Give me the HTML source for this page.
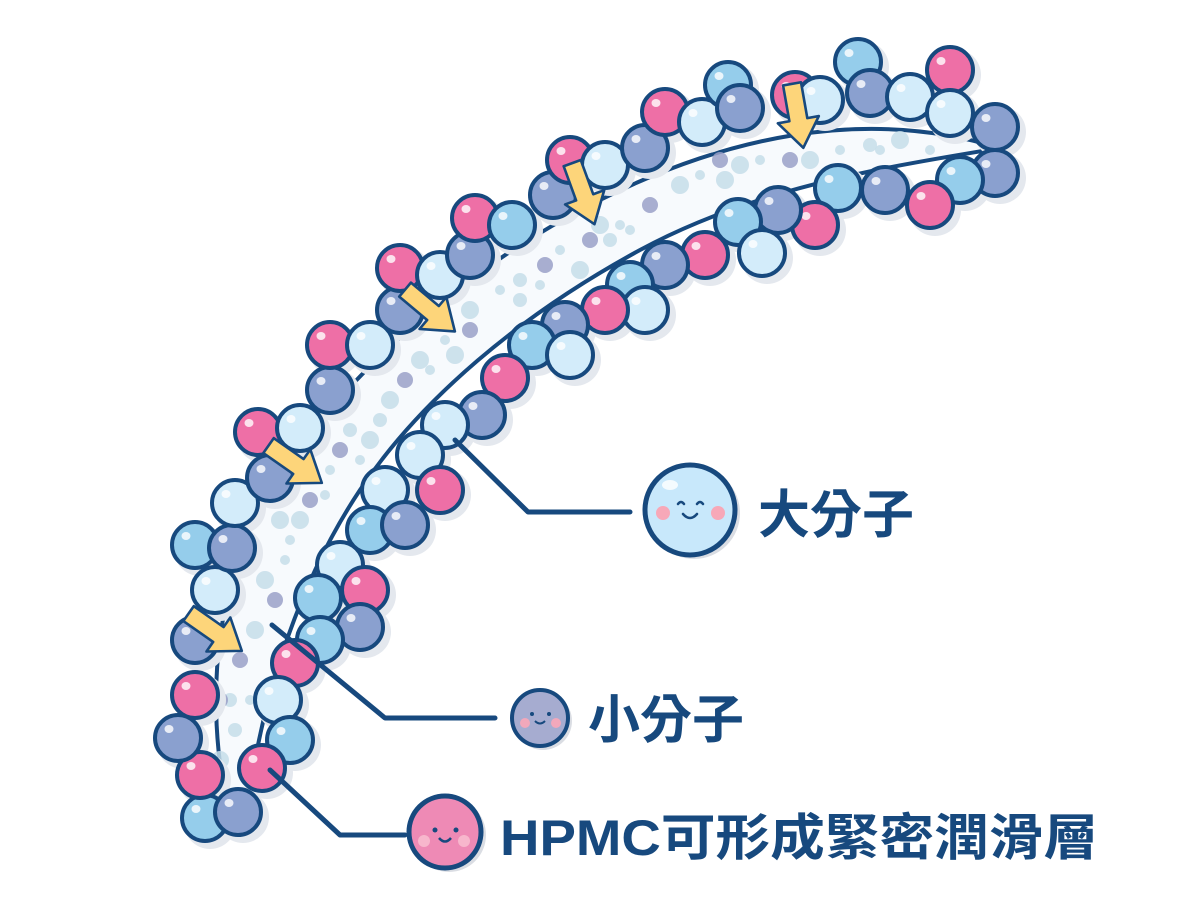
<!DOCTYPE html>
<html><head><meta charset="utf-8"><style>
html,body{margin:0;padding:0;background:#fff;}
svg{display:block;}
text{font-family:"Liberation Sans","Noto Sans CJK TC",sans-serif;font-weight:bold;fill:#17497e;}
</style></head><body>
<svg id="s" width="1200" height="919" viewBox="0 0 1200 919" xmlns="http://www.w3.org/2000/svg">
<path d="M225,795 C205,690 215,560 290,460 C370,350 480,260 600,200 C720,140 860,105 1000,148 C900,165 760,185 640,250 C520,315 420,400 360,490 C300,580 265,690 250,790 Z" fill="#f7fafd" stroke="#17497e" stroke-width="4"/>
<g id="parts"></g>
<g id="beads"></g>
<g id="arrows"></g>
<g fill="none" stroke="#17497e" stroke-width="5" stroke-linecap="round" stroke-linejoin="round">
<path d="M455,440 L528,512 L630,512"/>
<path d="M272,625 L385,718 L495,718"/>
<path d="M270,770 L340,835 L405,835"/>
</g>
<circle cx="694" cy="513" r="46" fill="#dadde3"/>
<circle cx="690" cy="510" r="45" fill="#c8e8fb" stroke="#17497e" stroke-width="5"/>
<ellipse cx="670" cy="485" rx="8" ry="5" fill="#fff" opacity="0.8"/>
<circle cx="663" cy="513" r="7" fill="#f7a8b8"/><circle cx="718" cy="513" r="7" fill="#f7a8b8"/>
<path d="M678,504 q3,-4 6,0 M697,504 q3,-4 6,0 M683,514 q7,8 14,0" fill="none" stroke="#17497e" stroke-width="2.5" stroke-linecap="round"/>
<circle cx="543" cy="721" r="29" fill="#dadde3"/>
<circle cx="540" cy="718" r="28" fill="#a6acd0" stroke="#17497e" stroke-width="4"/>
<circle cx="525" cy="723" r="5" fill="#f2a8bb"/><circle cx="556" cy="723" r="5" fill="#f2a8bb"/>
<circle cx="532" cy="714" r="2" fill="#17497e"/><circle cx="549" cy="714" r="2" fill="#17497e"/>
<path d="M535,721 q5,5 10,0" fill="none" stroke="#17497e" stroke-width="2"/>
<circle cx="449" cy="835" r="37" fill="#dadde3"/>
<circle cx="445" cy="832" r="36" fill="#ee8ab5" stroke="#17497e" stroke-width="5"/>
<circle cx="424" cy="841" r="6" fill="#f7b6cc"/><circle cx="464" cy="841" r="6" fill="#f7b6cc"/>
<circle cx="435" cy="830" r="2.5" fill="#17497e"/><circle cx="456" cy="830" r="2.5" fill="#17497e"/>
<path d="M439,838 q6,7 12,0" fill="none" stroke="#17497e" stroke-width="2.5"/>
<text x="758" y="533" font-size="52">大分子</text>
<text x="588" y="738" font-size="52">小分子</text>
<text x="500" y="855" font-size="50" textLength="598" lengthAdjust="spacingAndGlyphs">HPMC可形成緊密潤滑層</text>
</svg>
<script>
var NS="http://www.w3.org/2000/svg";
function el(p,t,a){var e=document.createElementNS(NS,t);for(var k in a)e.setAttribute(k,a[k]);p.appendChild(e);return e;}
var C={p:"#ee6fa6",l:"#d3ecfa",m:"#95cdeb",v:"#8aa0cf"};
var B=[[205,818,"m"],[238,812,"v"],[200,775,"p"],[178,738,"v"],[195,695,"p"],[195,640,"v"],[215,590,"l"],[195,545,"m"],[232,548,"v"],[235,503,"l"],[270,478,"v"],[258,432,"p"],[300,428,"l"],[330,390,"v"],[330,345,"p"],[370,345,"l"],[400,310,"v"],[400,268,"p"],[440,275,"l"],[470,255,"v"],[475,218,"p"],[512,225,"m"],[553,195,"v"],[570,160,"p"],[605,165,"l"],[645,148,"v"],[665,112,"p"],[702,122,"l"],[728,85,"m"],[740,108,"v"],[795,95,"p"],[820,100,"l"],[858,62,"m"],[870,93,"v"],[910,97,"l"],[950,70,"p"],[950,113,"l"],[995,127,"v"],[995,173,"v"],
[960,180,"m"],[930,205,"p"],[885,190,"v"],[838,188,"m"],[815,225,"p"],[778,210,"v"],[738,222,"m"],[762,253,"l"],[705,255,"p"],[665,265,"v"],[630,285,"m"],[645,310,"l"],[605,310,"p"],[565,325,"v"],[532,345,"m"],[570,355,"l"],[505,378,"p"],[482,415,"v"],[445,425,"l"],[420,455,"l"],[440,490,"p"],[385,490,"l"],[370,530,"m"],[405,525,"v"],[340,565,"l"],[365,590,"p"],[318,598,"m"],[360,627,"v"],[320,640,"m"],[295,663,"p"],[278,700,"l"],[290,740,"m"],[262,768,"p"]];
var g=document.getElementById("beads");
B.forEach(function(b){el(g,"circle",{cx:b[0]+5,cy:b[1]+5,r:26,fill:"#e4e8ee"});});
B.forEach(function(b){el(g,"circle",{cx:b[0],cy:b[1],r:23,fill:C[b[2]],stroke:"#17497e","stroke-width":4});
el(g,"ellipse",{cx:b[0]-9,cy:b[1]-9,rx:4.5,ry:4,fill:"#fff",opacity:0.8});});
var P=[[240,660,"v"],[230,700],[220,760],[250,700],[275,600,"v"],[265,580],[290,540],[310,500,"v"],[300,520],[330,470],[350,430],[370,440],[360,460],[405,380,"v"],[420,360],[445,340],[470,330,"v"],[470,310],[500,290],[520,280],[545,265,"v"],[560,250],[590,240,"v"],[600,225],[630,230],[650,205,"v"],[680,185],[700,175],[720,160,"v"],[740,165],[760,160],[790,160,"v"],[810,160],[840,150],[870,145],[900,140],[930,150],[220,700,"v"],[255,630],[285,560],[340,450,"v"],[390,400],[430,370],[520,300],[580,270],[620,225],[235,730],[280,520],[325,495],[380,420],[455,355],[540,285],[610,240],[725,180],[880,150]];
var pg=document.getElementById("parts");
P.forEach(function(p,i){el(pg,"circle",{cx:p[0],cy:p[1],r:p[2]?8:(5+(i%3)*2),fill:p[2]?"#9aa0c8":"#c6dde9",opacity:0.85});});
var A=[[212,630,35],[292,462,35],[427,308,40],[582,190,70],[797,112,80]];
var ag=document.getElementById("arrows");
A.forEach(function(a){var t=el(ag,"g",{transform:"translate("+a[0]+","+a[1]+") rotate("+a[2]+") scale(1.3)"});
el(t,"path",{d:"M-22,-7 L6,-7 L6,-16 L28,0 L6,16 L6,7 L-22,7 Z",fill:"#fdd57a",stroke:"#17497e","stroke-width":2,"stroke-linejoin":"round"});});
</script>
</body></html>
